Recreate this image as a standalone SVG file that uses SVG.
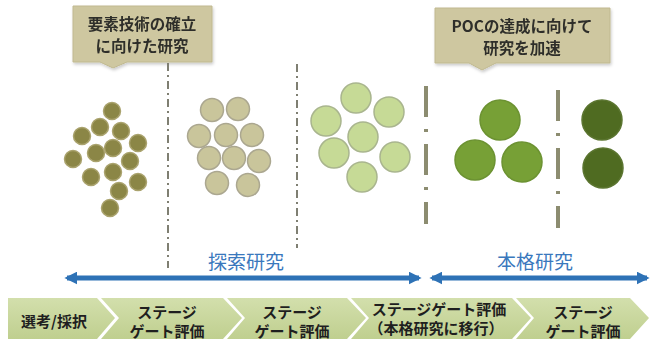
<svg xmlns="http://www.w3.org/2000/svg" width="650" height="340" viewBox="0 0 650 340">
<style>
.ct{font-family:"Noto Sans CJK JP","Noto Sans",sans-serif;font-weight:bold;fill:#2f2f2a;text-anchor:middle;font-size:15.5px}
.cb{font-family:"Noto Sans CJK JP","Noto Sans",sans-serif;font-weight:bold;fill:#1f1f1f;text-anchor:middle;font-size:15px}
.lab{font-family:"Noto Sans CJK JP","Noto Sans",sans-serif;fill:#3a78bd;text-anchor:middle;font-size:19px}
.callout{fill:#cec7a0;stroke:#c0b990;stroke-width:1}
.chev{fill:url(#cg)}
.thin{stroke:#7f7f72;stroke-width:2;stroke-dasharray:8,4,2,4;fill:none}
.thick{stroke:#8c8c70;stroke-width:4;stroke-dasharray:31,12,3,12;fill:none}
.g1{fill:#8b8646;stroke:#aaa36e;stroke-width:1.5}
.g2{fill:#c9c59b;stroke:#aba790;stroke-width:1.5}
.g3{fill:#c6da96;stroke:#a9b58e;stroke-width:1.5}
.g4{fill:#77a036;stroke:#6c9232;stroke-width:1.5}
.g5{fill:#4f6b21;stroke:#5b7530;stroke-width:1.5}
.arr{stroke:#2e72b6;stroke-width:5;fill:none}
</style>
<defs>
<linearGradient id="cg" x1="0" y1="0" x2="0" y2="1">
<stop offset="0" stop-color="#d3dfac"/>
<stop offset="1" stop-color="#bfcf8f"/>
</linearGradient>
<marker id="ah" viewBox="0 0 10 10" refX="8" refY="5" markerWidth="2.6" markerHeight="2.6" orient="auto-start-reverse">
<path d="M0,0 L10,5 L0,10 z" fill="#2e72b6"/>
</marker>
<filter id="sh" x="-10%" y="-10%" width="120%" height="130%">
<feDropShadow dx="1" dy="2" stdDeviation="1.5" flood-color="#000" flood-opacity="0.2"/>
</filter>
</defs>

<g id="callout-left" filter="url(#sh)">
<path class="callout" d="M73,6 H212 V62 H127 L113,68 L100,62 H73 Z"/>
<text class="ct" x="142" y="30">要素技術の確立</text>
<text class="ct" x="142" y="52">に向けた研究</text>
</g>
<g id="callout-right" filter="url(#sh)">
<path class="callout" d="M435,8 H610 V63 H496 L482,70 L469,63 H435 Z"/>
<text class="ct" x="522" y="32">POCの達成に向けて</text>
<text class="ct" x="522" y="54">研究を加速</text>
</g>

<g id="dividers">
<line class="thin" x1="168" y1="63" x2="168" y2="268"/>
<line class="thin" x1="297" y1="64" x2="297" y2="248"/>
<line class="thick" x1="426" y1="86" x2="426" y2="224"/>
<line class="thick" x1="558" y1="90" x2="558" y2="228"/>
</g>

<g id="group1">
<circle class="g1" cx="112" cy="111" r="8.5"/>
<circle class="g1" cx="100" cy="127" r="8.5"/>
<circle class="g1" cx="121" cy="131" r="8.5"/>
<circle class="g1" cx="82" cy="136" r="8.5"/>
<circle class="g1" cx="138" cy="143" r="8.5"/>
<circle class="g1" cx="96" cy="153" r="8.5"/>
<circle class="g1" cx="113" cy="148" r="8.5"/>
<circle class="g1" cx="73" cy="159" r="8.5"/>
<circle class="g1" cx="130" cy="161" r="8.5"/>
<circle class="g1" cx="91" cy="177" r="8.5"/>
<circle class="g1" cx="113" cy="172" r="8.5"/>
<circle class="g1" cx="138" cy="182" r="8.5"/>
<circle class="g1" cx="119" cy="191" r="8.5"/>
<circle class="g1" cx="110" cy="208" r="8.5"/>
</g>

<g id="group2">
<circle class="g2" cx="212" cy="110" r="11.5"/>
<circle class="g2" cx="238" cy="109" r="11.5"/>
<circle class="g2" cx="199" cy="136" r="11.5"/>
<circle class="g2" cx="226" cy="135" r="11.5"/>
<circle class="g2" cx="252" cy="135" r="11.5"/>
<circle class="g2" cx="209" cy="158" r="11.5"/>
<circle class="g2" cx="234" cy="158" r="11.5"/>
<circle class="g2" cx="259" cy="161" r="11.5"/>
<circle class="g2" cx="217" cy="183" r="11.5"/>
<circle class="g2" cx="248" cy="185" r="11.5"/>
</g>

<g id="group3">
<circle class="g3" cx="356" cy="98" r="15"/>
<circle class="g3" cx="389" cy="112" r="15"/>
<circle class="g3" cx="326" cy="121" r="15"/>
<circle class="g3" cx="363" cy="137" r="15"/>
<circle class="g3" cx="334" cy="153" r="15"/>
<circle class="g3" cx="395" cy="157" r="15"/>
<circle class="g3" cx="362" cy="177" r="15"/>
</g>

<g id="group4">
<circle class="g4" cx="500" cy="120" r="20"/>
<circle class="g4" cx="475" cy="160" r="20"/>
<circle class="g4" cx="522" cy="162" r="20"/>
</g>

<g id="group5">
<circle class="g5" cx="602" cy="120" r="20"/>
<circle class="g5" cx="603" cy="168" r="20"/>
</g>

<g id="connectors">
<line class="arr" x1="67" y1="278" x2="419" y2="278" marker-start="url(#ah)" marker-end="url(#ah)"/>
<line class="arr" x1="432" y1="278" x2="647" y2="278" marker-start="url(#ah)" marker-end="url(#ah)"/>
</g>

<g id="label-explore"><text class="lab" x="246" y="269">探索研究</text></g>
<g id="label-main"><text class="lab" x="535" y="269">本格研究</text></g>

<g id="stage1">
<path class="chev" d="M8,298 H97 L115,318 L97,339 H8 Z"/>
<text class="cb" x="54" y="327">選考/採択</text>
</g>
<g id="stage2">
<path class="chev" d="M101,298 H223 L242,318 L223,339 H101 L119,318 Z"/>
<text class="cb" x="167" y="318">ステージ</text>
<text class="cb" x="167" y="337">ゲート評価</text>
</g>
<g id="stage3">
<path class="chev" d="M227,298 H347 L366,318 L347,339 H227 L245,318 Z"/>
<text class="cb" x="292" y="318">ステージ</text>
<text class="cb" x="292" y="337">ゲート評価</text>
</g>
<g id="stage4">
<path class="chev" d="M351,298 H512 L531,318 L512,339 H351 L369,318 Z"/>
<text class="cb" x="439" y="315" font-size="12.5px">ステージゲート評価</text>
<text class="cb" x="436" y="334" font-size="12.5px">（本格研究に移行）</text>
</g>
<g id="stage5">
<path class="chev" d="M516,298 H630 L649,318 L630,339 H516 L534,318 Z"/>
<text class="cb" x="583" y="318">ステージ</text>
<text class="cb" x="583" y="337">ゲート評価</text>
</g>
</svg>
